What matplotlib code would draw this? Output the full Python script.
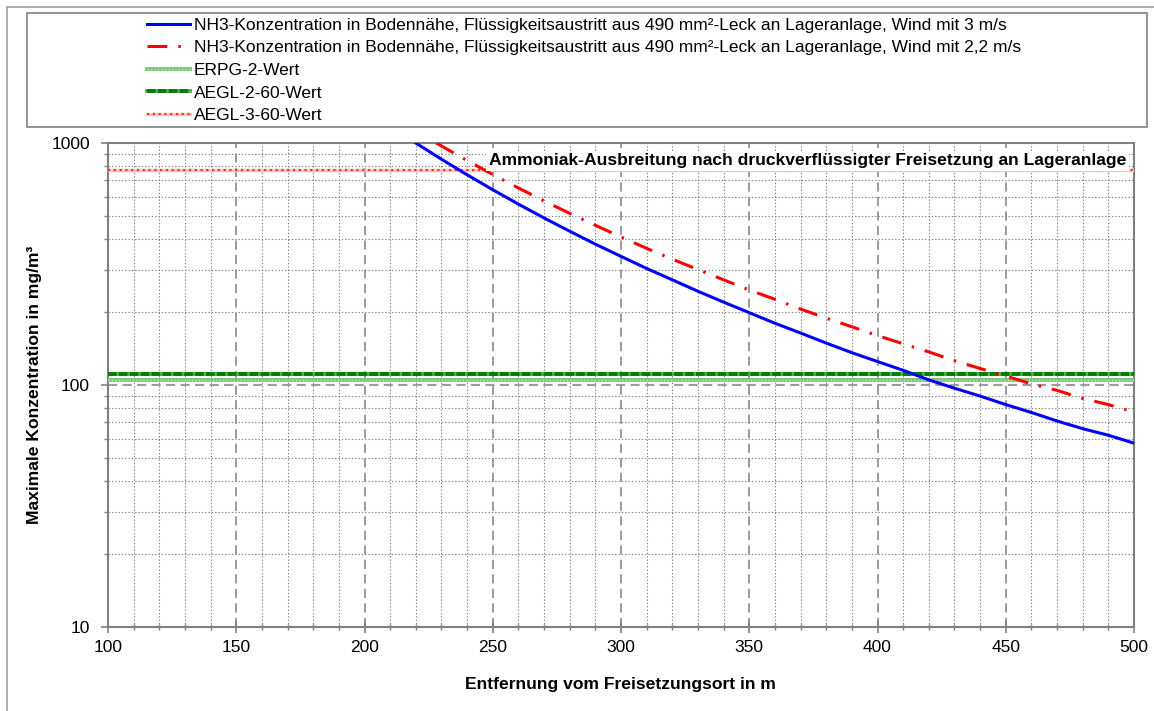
import numpy as np
import matplotlib
matplotlib.use('Agg')
import matplotlib.pyplot as plt
from matplotlib.patches import Rectangle
from matplotlib.ticker import MultipleLocator, LogLocator, NullFormatter, FuncFormatter

plt.rcParams['font.family'] = ['Liberation Sans', 'DejaVu Sans']

# Daten
entf_3ms = [220, 230, 240, 250, 260, 270, 280, 290, 300, 310, 320, 330, 340, 350, 360,
            370, 380, 390, 400, 410, 420, 430, 440, 450, 460, 470, 480, 490, 500]
konz_3ms = [1000, 857, 739, 641, 559, 490, 432, 382, 340, 303, 272, 244, 220, 199, 180,
            164, 149, 136, 125, 115, 105, 97, 90, 83, 77, 71, 66, 62, 57.5]

entf_22ms = [228, 240, 250, 260, 270, 280, 290, 300, 310, 320, 330, 340, 350, 360, 370,
             380, 390, 400, 410, 420, 430, 440, 450, 460, 470, 480, 490, 500]
konz_22ms = [1000, 846, 741, 652, 576, 512, 457, 409, 367, 331, 300, 272, 247, 226, 206,
             189, 174, 160, 148, 137, 126, 117, 109, 101, 95, 88, 83, 77.3]

erpg2 = 105
aegl2_60 = 111
aegl3_60 = 770

xlim = (100, 500)
ylim = (10, 1000)

labels = [
    'NH3-Konzentration in Bodennähe, Flüssigkeitsaustritt aus 490 mm²-Leck an Lageranlage, Wind mit 3 m/s',
    'NH3-Konzentration in Bodennähe, Flüssigkeitsaustritt aus 490 mm²-Leck an Lageranlage, Wind mit 2,2 m/s',
    'ERPG-2-Wert',
    'AEGL-2-60-Wert',
    'AEGL-3-60-Wert',
]
titel = 'Ammoniak-Ausbreitung nach druckverflüssigter Freisetzung an Lageranlage'
xlabel = 'Entfernung vom Freisetzungsort in m'
ylabel = 'Maximale Konzentration in mg/m³'

W, H = 1154, 711
fig = plt.figure(figsize=(W / 100, H / 100), dpi=100)
ax = fig.add_axes([108 / W, 1 - 627 / H, 1026 / W, 484 / H])

grau = '#808080'
fs = 12.5
fs_b = 12.6

# Grenzwerte
x_h = np.array(xlim)
erpg_a, = ax.plot(x_h, [erpg2] * 2, color='#7cc47c', lw=2.8, zorder=3)
erpg_b, = ax.plot(x_h, [erpg2] * 2, color='#c6e6c6', lw=1.0, ls=(0, (1, 1.5)), zorder=3.1)
aegl2_a, = ax.plot(x_h, [aegl2_60] * 2, color='#5aa85a', lw=2.8, zorder=3)
aegl2_b, = ax.plot(x_h, [aegl2_60] * 2, color='#008000', lw=2.8, ls=(0, (2.2, 0.6)), zorder=3.1)
aegl3_a, = ax.plot(x_h, [aegl3_60] * 2, color='#ffc4c4', lw=2.4, zorder=3)
aegl3_b, = ax.plot(x_h, [aegl3_60] * 2, color='#ff3030', lw=1.6, ls=(0, (1, 1.6)), zorder=3.1)

# Konzentrationsverläufe
l1, = ax.plot(entf_3ms, konz_3ms, color='#0000ff', lw=2.2, zorder=4)
l2, = ax.plot(entf_22ms, konz_22ms, color='#ff0000', lw=2.2,
              ls=(0, (6.5, 3.6, 0.8, 3.6)), zorder=4)

ax.set_yscale('log')
ax.set_xlim(*xlim)
ax.set_ylim(*ylim)

ax.xaxis.set_major_locator(MultipleLocator(50))
ax.xaxis.set_minor_locator(MultipleLocator(10))
ax.yaxis.set_major_locator(LogLocator(base=10))
ax.yaxis.set_minor_locator(LogLocator(base=10, subs=np.arange(2, 10)))
ax.yaxis.set_major_formatter(FuncFormatter(lambda v, p: f'{v:g}'))
ax.yaxis.set_minor_formatter(NullFormatter())

ax.grid(which='major', color=grau, lw=1.1, ls=(0, (6, 3.5)), zorder=1)
ax.grid(which='minor', color=grau, lw=0.8, ls=(0, (1.2, 1.8)), zorder=1)

for s in ax.spines.values():
    s.set_color(grau)
    s.set_linewidth(1.5)

ax.tick_params(axis='x', which='major', direction='inout', length=8, width=1.2,
               color=grau, labelsize=fs, pad=5)
ax.tick_params(axis='x', which='minor', direction='inout', length=5, width=1.0, color=grau)
ax.tick_params(axis='y', which='major', direction='out', length=5, width=1.2,
               color=grau, labelsize=fs, pad=8)
ax.tick_params(axis='y', which='minor', direction='out', length=3, width=1.0, color=grau)

# Titel im Diagramm mit weissem Hintergrund
ax.text(1126 / W, 1 - 161 / H, titel, transform=fig.transFigure, ha='right', va='center',
        fontsize=fs_b, fontweight='bold', zorder=10,
        bbox=dict(facecolor='white', edgecolor='none', pad=2))

fig.text(620 / W, 1 - 684 / H, xlabel, ha='center', va='center', fontsize=fs_b, fontweight='bold')
fig.text(35 / W, 1 - 385 / H, ylabel, ha='center', va='center', rotation=90,
         fontsize=fs_b, fontweight='bold')

# Legende
leg = fig.legend([l1, l2, (erpg_a, erpg_b), (aegl2_a, aegl2_b), (aegl3_a, aegl3_b)], labels,
                 loc='upper left', bbox_to_anchor=(147 / W, 1 - 17.5 / H), frameon=False,
                 fontsize=fs, handlelength=2.5, handletextpad=0.2, labelspacing=0.43,
                 borderpad=0, borderaxespad=0)

fig.patches.append(Rectangle((27 / W, 1 - 127 / H), 1120 / W, 114 / H, transform=fig.transFigure,
                             fill=False, edgecolor=grau, lw=1.2))
fig.patches.append(Rectangle((7 / W, -0.05), 1.2, 1 - 7 / H + 0.05, transform=fig.transFigure,
                             fill=False, edgecolor='#a0a0a0', lw=1.2))

fig.savefig('out.png', dpi=100)
